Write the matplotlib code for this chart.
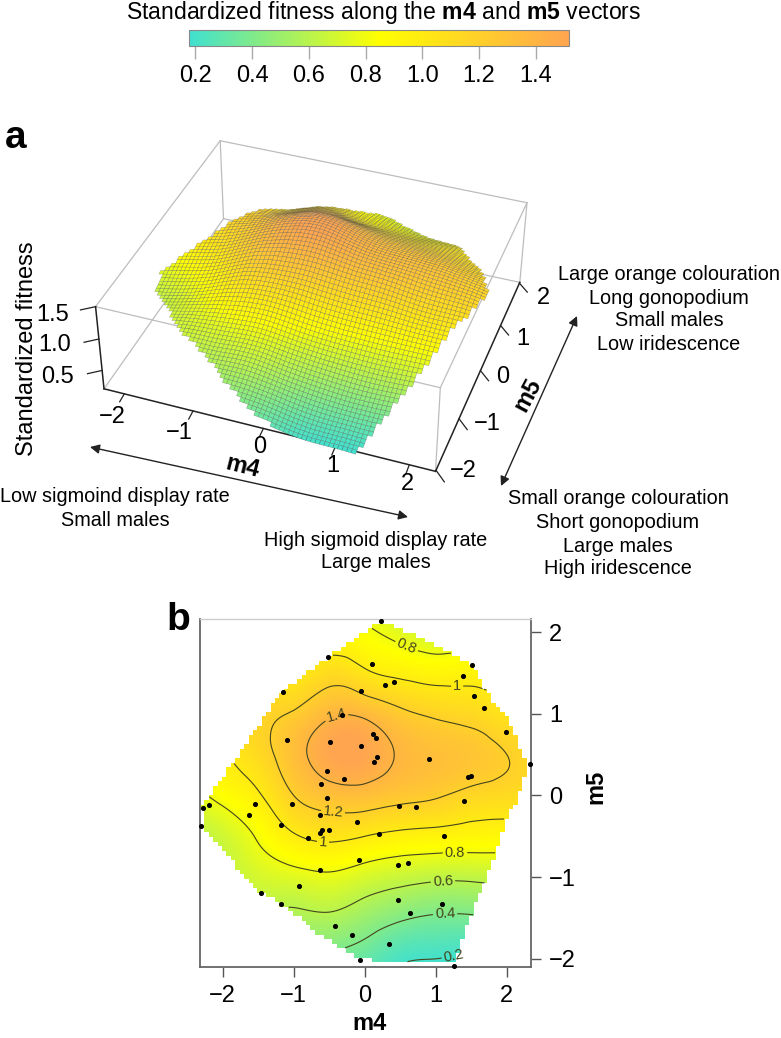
import matplotlib
matplotlib.use('Agg')
import matplotlib.pyplot as plt
import matplotlib.tri as mtri
import numpy as np
from matplotlib.cm import ScalarMappable
from matplotlib.colors import LinearSegmentedColormap, Normalize
from matplotlib.path import Path
from mpl_toolkits.mplot3d import proj3d
from mpl_toolkits.mplot3d.art3d import Poly3DCollection

plt.rcParams['font.family'] = ['Liberation Sans', 'DejaVu Sans']
plt.rcParams['mathtext.fontset'] = 'custom'
plt.rcParams['mathtext.rm'] = 'Liberation Sans'
plt.rcParams['mathtext.bf'] = 'Liberation Sans:bold'

# fitness surface, rows are m5, columns are m4
grid_m4 = [-2.5, -2, -1.5, -1, -0.5, 0, 0.5, 1, 1.5, 2, 2.5]
grid_m5 = [-2.5, -2, -1.5, -1, -0.5, 0, 0.5, 1, 1.5, 2, 2.5]
fitness = [
    [0.05, 0.10, 0.20, 0.30, 0.30, 0.22, 0.13, 0.10, 0.10, 0.10, 0.10],
    [0.20, 0.30, 0.36, 0.42, 0.38, 0.32, 0.22, 0.20, 0.18, 0.20, 0.20],
    [0.35, 0.45, 0.55, 0.56, 0.57, 0.50, 0.42, 0.38, 0.38, 0.40, 0.42],
    [0.50, 0.60, 0.70, 0.74, 0.77, 0.71, 0.66, 0.63, 0.63, 0.65, 0.66],
    [0.60, 0.68, 0.82, 0.98, 1.04, 1.00, 0.95, 0.93, 0.91, 0.90, 0.88],
    [0.72, 0.85, 0.98, 1.20, 1.31, 1.32, 1.26, 1.22, 1.15, 1.12, 1.05],
    [0.85, 0.98, 1.12, 1.32, 1.50, 1.51, 1.38, 1.32, 1.28, 1.20, 1.08],
    [0.85, 1.00, 1.15, 1.22, 1.37, 1.36, 1.24, 1.17, 1.13, 1.05, 0.98],
    [0.80, 0.95, 1.05, 1.00, 1.11, 1.03, 0.96, 0.92, 0.93, 0.88, 0.84],
    [0.75, 0.90, 0.90, 0.85, 0.88, 0.83, 0.75, 0.68, 0.68, 0.65, 0.65],
    [0.70, 0.80, 0.80, 0.75, 0.72, 0.65, 0.60, 0.55, 0.55, 0.55, 0.55],
]

# outline of the sampled region
hull_m4 = [0.215, 0.356, 0.873, 1.507, 1.666, 1.859, 2.0, 2.159, 2.282, 2.23, 2.117, 2.0, 1.859, 1.694, 1.507,
           1.342, 1.272, 0.239, -0.207, -0.676, -1.099, -1.465, -2.273, -2.292, -1.756, -1.334, -1.155, -0.517, -0.024]
hull_m5 = [2.13, 2.105, 1.889, 1.616, 1.346, 1.081, 0.958, 0.652, 0.392, 0.147, -0.098, -0.282, -0.673, -1.061, -1.444,
           -1.857, -2.053, -2.053, -1.946, -1.673, -1.375, -1.187, -0.428, -0.122, 0.51, 1.081, 1.273, 1.693, 1.983]

# population means in panel b
point_m4 = [0.225, -0.517, 0.107, 0.28, 0.417, -0.056, -1.155, -0.324, -1.099, -0.493, -0.048, 0.121, 0.159, 0.169,
            0.131, -0.531, -0.296, -0.62, -0.527, -1.02, -1.545, -2.197, -2.277, -1.634, -0.625, -2.3, -1.179, -0.108,
            0.487, 0.722, 0.91, 1.459, 1.49, 1.394, 1.985, 2.319, 1.685, 1.535, 1.385, 1.511, -0.606, -0.63, -0.503,
            -0.794, 0.197, -0.634, -0.08, 0.469, 0.614, -0.925, -1.465, -1.18, 0.469, 0.634, -0.414, -0.175, 0.347,
            -0.07, 1.117, 1.084, 1.262]
point_m5 = [2.13, 1.69, 1.61, 1.346, 1.383, 1.28, 1.27, 0.979, 0.677, 0.649, 0.6, 0.747, 0.706, 0.465,
            0.408, 0.298, 0.204, 0.143, -0.028, -0.11, -0.102, -0.114, -0.151, -0.245, -0.241, -0.38, -0.359, -0.327,
            -0.126, -0.147, 0.449, 0.229, 0.236, -0.073, 0.78, 0.388, 1.065, 1.22, 1.465, 1.595, -0.42, -0.457, -0.428,
            -0.526, -0.473, -0.91, -0.796, -0.853, -0.824, -1.106, -1.191, -1.33, -1.285, -1.444, -1.6, -1.705, -1.824,
            -2.011, -0.498, -1.33, -2.085]

contour_levels = [0.2, 0.4, 0.6, 0.8, 1.0, 1.2, 1.4]
label_spots = [(0.61, 1.87), (1.3, 1.33), (-0.4, 0.97), (-0.45, -0.21), (-0.59, -0.59),
               (1.27, -0.7), (1.1, -1.04), (1.13, -1.45), (1.25, -1.96)]
colorbar_ticks = [0.2, 0.4, 0.6, 0.8, 1.0, 1.2, 1.4]
axis_ticks = [-2, -1, 0, 1, 2]
fitness_ticks = [0.5, 1.0, 1.5]

W, H = 781, 1038
fig = plt.figure(figsize=(W / 100, H / 100), dpi=100)


def px_axes(x0, y0, x1, y1, **kw):
    return fig.add_axes([x0 / W, 1 - y1 / H, (x1 - x0) / W, (y1 - y0) / H], **kw)


cmap = LinearSegmentedColormap.from_list('fit', ['#40E0D0', '#FFFF00', '#FFA54F'])
norm = Normalize(0.179, 1.516)

# smooth the read values onto the plotting mesh
xl = (-2.32, 2.34)
yl = (-2.1, 2.16)
gx, gy = np.meshgrid(grid_m4, grid_m5)
tri = mtri.Triangulation(gx.ravel(), gy.ravel())
smooth = mtri.CubicTriInterpolator(tri, np.array(fitness).ravel(), kind='min_E')
hull = Path(np.column_stack([hull_m4, hull_m5]))

ncell = 75
sub = 4
xe = np.linspace(*xl, ncell + 1)
ye = np.linspace(*yl, ncell + 1)
xc = (xe[:-1] + xe[1:]) / 2
yc = (ye[:-1] + ye[1:]) / 2
ccx, ccy = np.meshgrid(xc, yc)
inside = hull.contains_points(np.column_stack([ccx.ravel(), ccy.ravel()])).reshape(ccx.shape)

# panel b
xf = np.linspace(*xl, ncell * sub + 1)
yf = np.linspace(*yl, ncell * sub + 1)
xfc = (xf[:-1] + xf[1:]) / 2
yfc = (yf[:-1] + yf[1:]) / 2
fx, fy = np.meshgrid(xfc, yfc)
fz = np.ma.masked_array(np.asarray(smooth(fx, fy)), ~np.kron(inside, np.ones((sub, sub), dtype=bool)))

axb = px_axes(200, 619, 531, 967)
axb.pcolormesh(xf, yf, fz, cmap=cmap, norm=norm, shading='flat', rasterized=True)
cs = axb.contour(fx, fy, fz, levels=contour_levels, colors='#45451f', linewidths=0.8)
axb.clabel(cs, fmt='%g', fontsize=10.5, manual=label_spots, inline=True, inline_spacing=2)
axb.scatter(point_m4, point_m5, s=7, color='black', zorder=5, clip_on=False)
axb.set_xlim(*xl)
axb.set_ylim(*yl)
axb.yaxis.tick_right()
axb.set_xticks(axis_ticks, [str(t).replace('-', '\u2212') for t in axis_ticks], fontsize=17)
axb.set_yticks(axis_ticks, [str(t).replace('-', '\u2212') for t in axis_ticks], fontsize=17)
axb.tick_params(length=7, width=1, color='#555555', pad=6)
for side in ['left', 'bottom', 'right']:
    axb.spines[side].set_color('#666666')
    axb.spines[side].set_linewidth(1.3)
axb.spines['top'].set_color('#cccccc')
axb.spines['top'].set_linewidth(1)

# panel a
ax3 = fig.add_subplot(projection='3d', computed_zorder=False)
ax3.set_axis_off()
ax3.patch.set_alpha(0)
bx = (-2.3, 2.35)
by = (-2.02, 2.02)
bz = (0.2, 1.5)
ax3.set_xlim(*bx)
ax3.set_ylim(*by)
ax3.set_zlim(*bz)
ax3.set_box_aspect((340, 306, 103))
ax3.view_init(elev=38, azim=-70)
ax3._dist = 7

# fit the box onto the figure
corners = [(bx[0], by[0], bz[0]), (bx[1], by[0], bz[0]), (bx[1], by[1], bz[0]), (bx[0], by[1], bz[0]),
           (bx[0], by[0], bz[1]), (bx[1], by[0], bz[1]), (bx[1], by[1], bz[1]), (bx[0], by[1], bz[1])]
target_x = np.array([100, 437, 524, 221, 94, 440, 531, 219], float)
target_y = np.array([388, 465, 285, 224, 306, 380, 205, 146], float)
cx, cy, cz = np.array(corners).T
u, v, _ = proj3d.proj_transform(cx, cy, cz, ax3.get_proj())
A = np.zeros((16, 3))
A[:8, 0], A[:8, 1] = u, 1
A[8:, 0], A[8:, 2] = -v, 1
coef = np.linalg.lstsq(A, np.r_[target_x, target_y], rcond=None)[0]
x0, x1 = ax3.viewLim.intervalx
y0, y1 = ax3.viewLim.intervaly
left = coef[1] + coef[0] * x0
right = coef[1] + coef[0] * x1
top = coef[2] - coef[0] * y1
bottom = coef[2] - coef[0] * y0
ax3.set_position([left / W, 1 - bottom / H, (right - left) / W, (bottom - top) / H])

# box behind the surface
grey = '#bdbdbd'
for i, j in [(0, 3), (3, 2), (4, 7), (7, 6), (6, 5), (5, 4), (3, 7), (2, 6), (1, 5)]:
    ax3.plot(*zip(corners[i], corners[j]), color=grey, lw=0.9, zorder=1, clip_on=False)
for i, j in [(0, 1), (1, 2), (0, 4)]:
    ax3.plot(*zip(corners[i], corners[j]), color='#222222', lw=1.1, zorder=1, clip_on=False)
for t in axis_ticks:
    ax3.plot([t, t + 0.01], [by[0], by[0] - 0.16], [bz[0], bz[0]], color='#222222', lw=0.9, zorder=1, clip_on=False)
    ax3.plot([bx[1], bx[1] + 0.16], [t, t - 0.16], [bz[0], bz[0]], color='#222222', lw=0.9, zorder=1, clip_on=False)
for t in fitness_ticks:
    ax3.plot([bx[0], bx[0] - 0.153], [by[0], by[0] - 0.123], [t, t], color='#222222', lw=0.9, zorder=1, clip_on=False)

sx = np.asarray(smooth(*np.meshgrid(xe, ye)))
mx, my = np.meshgrid(xe, ye)
quads = []
quad_colors = []
for r in range(ncell):
    for c in range(ncell):
        if inside[r, c]:
            quads.append([(mx[r, c], my[r, c], sx[r, c]), (mx[r, c + 1], my[r, c + 1], sx[r, c + 1]),
                          (mx[r + 1, c + 1], my[r + 1, c + 1], sx[r + 1, c + 1]),
                          (mx[r + 1, c], my[r + 1, c], sx[r + 1, c])])
            quad_colors.append(cmap(norm(sx[r:r + 2, c:c + 2].mean())))
surf = Poly3DCollection(quads, facecolors=quad_colors, edgecolors=(0.25, 0.25, 0.25, 0.5), linewidths=0.3,
                        zorder=2, zsort='average')
ax3.add_collection3d(surf)
surf.set_clip_on(False)

# colour key
axc = px_axes(189.3, 30, 568.7, 46)
cb = fig.colorbar(ScalarMappable(norm=norm, cmap=cmap), cax=axc, orientation='horizontal')
cb.set_ticks(colorbar_ticks, labels=['%.1f' % t for t in colorbar_ticks])
cb.outline.set_edgecolor('#888888')
cb.outline.set_linewidth(0.8)
axc.tick_params(axis='x', length=9, width=1, color='#aaaaaa', labelsize=17, pad=5)

# texts and arrows in figure pixels
top_ax = px_axes(0, 0, W, H, zorder=10)
top_ax.set_xlim(0, W)
top_ax.set_ylim(H, 0)
top_ax.set_axis_off()


def put(x, y, s, size=17, **kw):
    top_ax.text(x, y, s, fontsize=size, ha='center', va='center', **kw)


put(384, 13, r'Standardized fitness along the $\mathbf{m4}$ and $\mathbf{m5}$ vectors', 16.6)
put(16, 138, 'a', 28, fontweight='bold')
put(178, 620, 'b', 28, fontweight='bold')

for y, s in zip([497, 520], ['Low sigmoind display rate', 'Small males']):
    put(115, y, s, 14.3)
for y, s in zip([540, 563], ['High sigmoid display rate', 'Large males']):
    put(376, y, s, 14.3)
for y, s in zip([274, 298, 321, 345], ['Large orange colouration', 'Long gonopodium', 'Small males', 'Low iridescence']):
    put(669, y, s, 14.3)
for y, s in zip([499, 523, 546, 569], ['Small orange colouration', 'Short gonopodium', 'Large males', 'High iridescence']):
    put(618, y, s, 14.3)

put(27, 349, 'Standardized fitness', 17, rotation=90)
put(243, 467, 'm4', 17, fontweight='bold', rotation=-14)
put(528, 395, 'm5', 17, fontweight='bold', rotation=62)
put(369, 1024, 'm4', 17, fontweight='bold')
put(596, 787, 'm5', 17, fontweight='bold', rotation=90)

for pos, s in zip([(58, 377), (55, 345), (53, 315)], ['%.1f' % t for t in fitness_ticks]):
    put(pos[0], pos[1], s)
m4_pos = [(112, 417), (179, 433), (260, 447), (333, 466), (407, 484)]
m5_pos = [(463, 471), (487, 424), (503, 377), (523, 339), (543, 298)]
for pos, t in zip(m4_pos, axis_ticks):
    put(pos[0], pos[1], str(t).replace('-', '\u2212'))
for pos, t in zip(m5_pos, axis_ticks):
    put(pos[0], pos[1], str(t).replace('-', '\u2212'))

arrow = dict(arrowstyle='<|-|>', color='#222222', lw=1, mutation_scale=14, shrinkA=0, shrinkB=0)
top_ax.annotate('', xy=(408, 517), xytext=(90, 447), arrowprops=arrow)
top_ax.annotate('', xy=(577, 316), xytext=(501, 486), arrowprops=arrow)

fig.savefig('out.png', dpi=100)
